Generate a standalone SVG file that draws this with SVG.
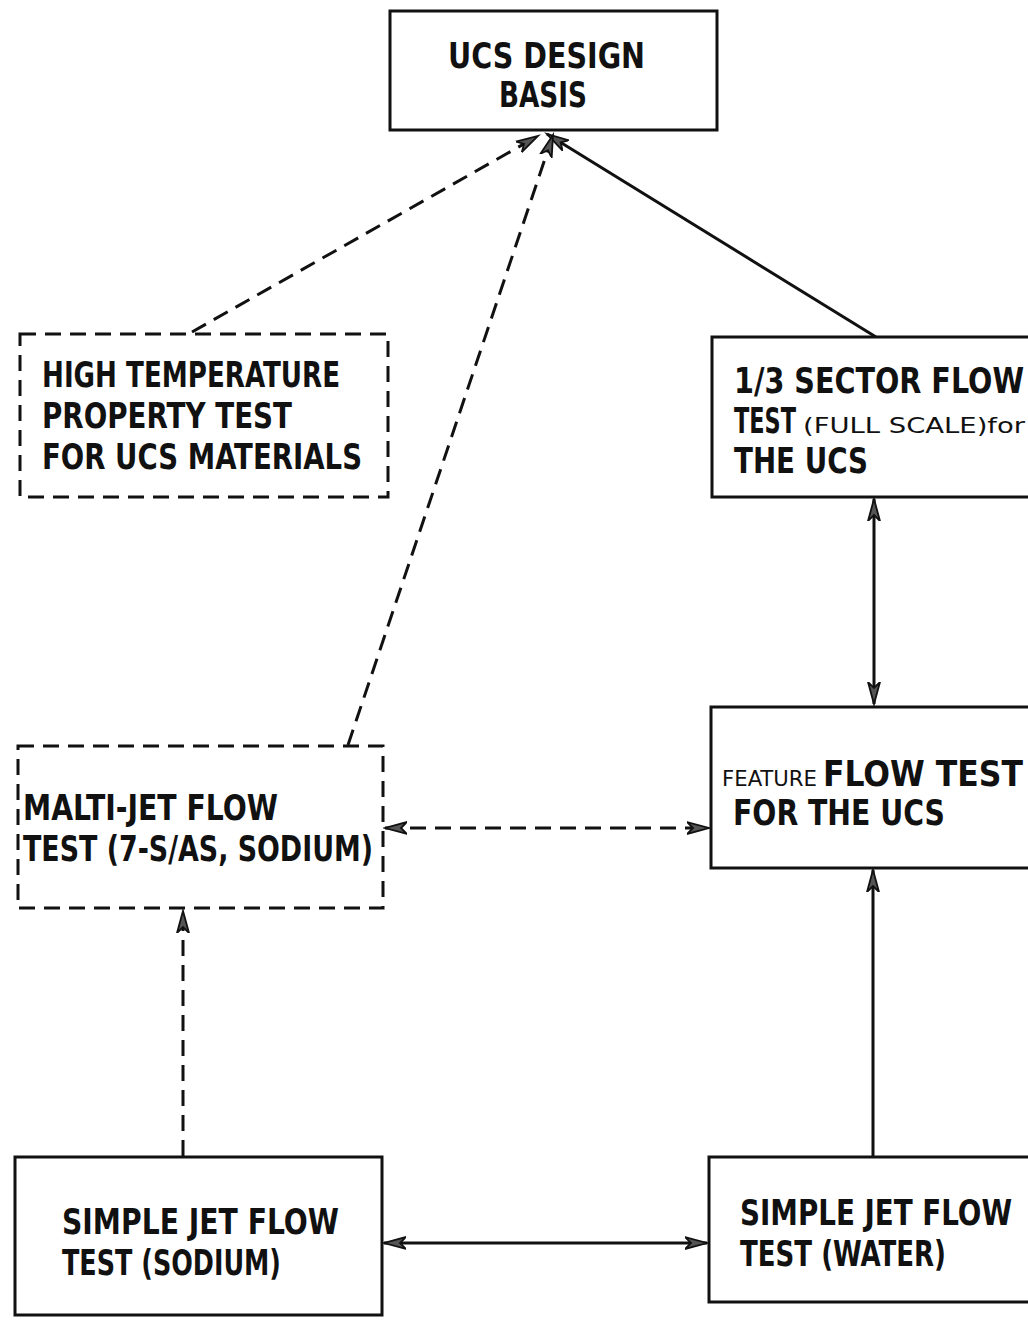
<svg xmlns="http://www.w3.org/2000/svg" width="1028" height="1320" viewBox="0 0 1028 1320">
<style>
.box{fill:#fff;stroke:#111;stroke-width:3}
.dbox{fill:#fff;stroke:#111;stroke-width:3;stroke-dasharray:16 9}
.t{font-family:"Liberation Sans Narrow","DejaVu Sans Condensed","Liberation Sans",sans-serif;font-weight:bold;font-size:35px;fill:#111}
.h{font-family:"DejaVu Sans Condensed","DejaVu Sans",sans-serif;font-weight:normal;font-size:22px;fill:#111}
.c{fill:none;stroke:#111;stroke-width:3}
.cd{fill:none;stroke:#111;stroke-width:3;stroke-dasharray:16 9}
</style>
<defs>
<marker id="arr" markerUnits="userSpaceOnUse" markerWidth="26" markerHeight="16" refX="22" refY="8" orient="auto-start-reverse">
<path d="M0,2 L22,8 L0,14 L6,8 Z" fill="#555" stroke="#111" stroke-width="1.8"/>
</marker>
</defs>
<rect width="1028" height="1320" fill="#fff"/>
<g id="connectors">
<line class="c" x1="876" y1="337" x2="547" y2="134" marker-end="url(#arr)"/>
<line class="cd" x1="192" y1="332" x2="538" y2="136" marker-end="url(#arr)"/>
<line class="cd" x1="348" y1="745" x2="553" y2="135" marker-end="url(#arr)"/>
<line class="c" x1="874" y1="499" x2="874" y2="704" marker-start="url(#arr)" marker-end="url(#arr)"/>
<line class="cd" x1="385" y1="828" x2="709" y2="828" marker-start="url(#arr)" marker-end="url(#arr)"/>
<line class="cd" x1="183" y1="1156" x2="183" y2="911" marker-end="url(#arr)"/>
<line class="c" x1="873" y1="1156" x2="873" y2="870" marker-end="url(#arr)"/>
<line class="c" x1="384" y1="1243" x2="707" y2="1243" marker-start="url(#arr)" marker-end="url(#arr)"/>
</g>
<g id="ucs-design-basis">
<rect class="box" x="390" y="11" width="327" height="119"/>
<text class="t" x="448" y="68" textLength="197" lengthAdjust="spacingAndGlyphs">UCS DESIGN</text>
<text class="t" x="499" y="107" textLength="88" lengthAdjust="spacingAndGlyphs">BASIS</text>
</g>
<g id="high-temp-test">
<rect class="dbox" x="20" y="334" width="368" height="163"/>
<text class="t" x="42" y="387" textLength="298" lengthAdjust="spacingAndGlyphs">HIGH TEMPERATURE</text>
<text class="t" x="42" y="428" textLength="250" lengthAdjust="spacingAndGlyphs">PROPERTY TEST</text>
<text class="t" x="42" y="469" textLength="320" lengthAdjust="spacingAndGlyphs">FOR UCS MATERIALS</text>
</g>
<g id="sector-flow-test">
<rect class="box" x="712" y="337" width="330" height="160"/>
<g transform="translate(734,393) scale(1,1.2)"><text class="t" x="0" y="0" style="font-size:29px" textLength="290" lengthAdjust="spacingAndGlyphs">1/3 SECTOR FLOW</text></g>
<g transform="translate(734,433) scale(1,1.35)"><text class="t" x="0" y="0" style="font-size:26px" textLength="62" lengthAdjust="spacingAndGlyphs">TEST</text></g>
<text class="h" x="803" y="433" textLength="222" lengthAdjust="spacingAndGlyphs">(FULL SCALE)for</text>
<text class="t" x="734" y="473" textLength="134" lengthAdjust="spacingAndGlyphs">THE UCS</text>
</g>
<g id="feature-flow-test">
<rect class="box" x="711" y="707" width="330" height="161"/>
<text class="h" x="722" y="786" textLength="95" lengthAdjust="spacingAndGlyphs">FEATURE</text>
<text class="t" x="823" y="786" textLength="200" lengthAdjust="spacingAndGlyphs">FLOW TEST</text>
<text class="t" x="733" y="825" textLength="212" lengthAdjust="spacingAndGlyphs">FOR THE UCS</text>
</g>
<g id="multi-jet-flow-test">
<rect class="dbox" x="18" y="746" width="365" height="162"/>
<text class="t" x="23" y="820" textLength="255" lengthAdjust="spacingAndGlyphs">MALTI-JET FLOW</text>
<text class="t" x="23" y="861" textLength="350" lengthAdjust="spacingAndGlyphs">TEST (7-S/AS, SODIUM)</text>
</g>
<g id="simple-jet-sodium">
<rect class="box" x="15" y="1157" width="367" height="158"/>
<text class="t" x="62" y="1234" textLength="277" lengthAdjust="spacingAndGlyphs">SIMPLE JET FLOW</text>
<text class="t" x="62" y="1275" textLength="219" lengthAdjust="spacingAndGlyphs">TEST (SODIUM)</text>
</g>
<g id="simple-jet-water">
<rect class="box" x="709" y="1157" width="330" height="145"/>
<g transform="translate(740,1225) scale(1,1.2)"><text class="t" x="0" y="0" style="font-size:29px" textLength="272" lengthAdjust="spacingAndGlyphs">SIMPLE JET FLOW</text></g>
<text class="t" x="740" y="1266" textLength="206" lengthAdjust="spacingAndGlyphs">TEST (WATER)</text>
</g>
</svg>
